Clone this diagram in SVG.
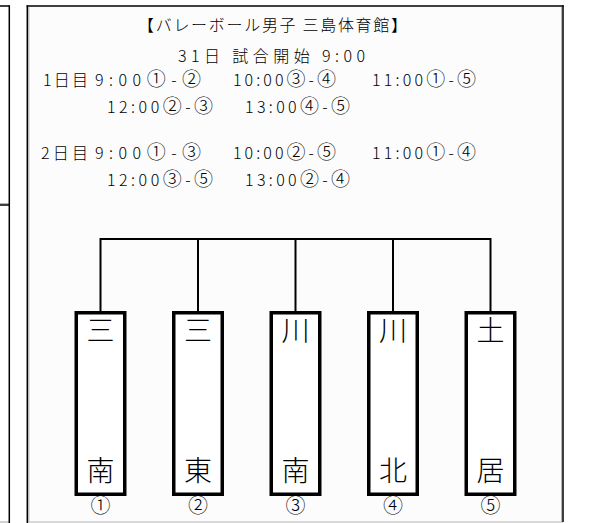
<svg xmlns="http://www.w3.org/2000/svg" width="597" height="523" viewBox="0 0 597 523">
<defs>
<style>
.t{font-family:"Noto Sans CJK JP","Noto Sans",sans-serif;font-size:16px;font-weight:300;fill:#000}
.c{font-family:"DejaVu Sans","Noto Sans CJK JP",sans-serif;font-size:19px}
.nm{font-family:"Noto Sans CJK JP","Noto Sans",sans-serif;font-size:28px;font-weight:300;fill:#000;text-anchor:middle}
.num{font-family:"Noto Sans CJK JP","Noto Sans",sans-serif;font-size:20px;font-weight:300;fill:#000;text-anchor:middle}
.box{fill:#ffffff;stroke:#000;stroke-width:3.5}
.ln{stroke:#000;stroke-width:2;fill:none}
.fr{stroke:#000;stroke-width:1.5;fill:none}
.gr{stroke:#b4b4b4;stroke-width:1.2;fill:none}
</style>
</defs>
<rect x="0" y="0" width="597" height="523" fill="#ffffff"/>
<g id="left-panel">
<line class="gr" x1="0" y1="203.6" x2="9" y2="203.6"/>
<line class="gr" x1="0" y1="522" x2="9" y2="522"/>
<line class="fr" x1="0" y1="6" x2="9.3" y2="6"/>
<line class="fr" x1="0" y1="205" x2="9.3" y2="205"/>
<line class="fr" x1="9.3" y1="5.3" x2="9.3" y2="523"/>
</g>
<g id="frame">
<rect x="27.3" y="6" width="535.7" height="517" fill="#fcfcfc"/>
<line class="gr" x1="28.8" y1="7" x2="28.8" y2="522"/>
<line class="gr" x1="561.6" y1="7" x2="561.6" y2="522"/>
<line class="gr" x1="27" y1="522" x2="563" y2="522"/>
<line class="fr" x1="26.6" y1="6" x2="563.7" y2="6"/>
<line class="fr" x1="27.3" y1="5.3" x2="27.3" y2="523"/>
<line class="fr" x1="563" y1="5.3" x2="563" y2="522"/>
</g>
<g id="schedule">
<text class="t" x="138" y="31" textLength="269" lengthAdjust="spacing">【バレーボール男子 三島体育館】</text>
<text class="t" x="178" y="62" textLength="187" lengthAdjust="spacing">31日 試合開始 9:00</text>
<text class="t" x="43" y="86" textLength="45" lengthAdjust="spacing">1日目</text>
<text class="t" x="95" y="86" textLength="106" lengthAdjust="spacing">9:00<tspan class="c">①</tspan>-<tspan class="c">②</tspan></text>
<text class="t" x="233" y="86" textLength="103" lengthAdjust="spacing">10:00<tspan class="c">③</tspan>-<tspan class="c">④</tspan></text>
<text class="t" x="372" y="86" textLength="104" lengthAdjust="spacing">11:00<tspan class="c">①</tspan>-<tspan class="c">⑤</tspan></text>
<text class="t" x="107" y="112.5" textLength="106" lengthAdjust="spacing">12:00<tspan class="c">②</tspan>-<tspan class="c">③</tspan></text>
<text class="t" x="245" y="112.5" textLength="105" lengthAdjust="spacing">13:00<tspan class="c">④</tspan>-<tspan class="c">⑤</tspan></text>
<text class="t" x="41" y="159" textLength="47" lengthAdjust="spacing">2日目</text>
<text class="t" x="95" y="159" textLength="106" lengthAdjust="spacing">9:00<tspan class="c">①</tspan>-<tspan class="c">③</tspan></text>
<text class="t" x="233" y="159" textLength="103" lengthAdjust="spacing">10:00<tspan class="c">②</tspan>-<tspan class="c">⑤</tspan></text>
<text class="t" x="372" y="159" textLength="104" lengthAdjust="spacing">11:00<tspan class="c">①</tspan>-<tspan class="c">④</tspan></text>
<text class="t" x="107" y="186" textLength="106" lengthAdjust="spacing">12:00<tspan class="c">③</tspan>-<tspan class="c">⑤</tspan></text>
<text class="t" x="245" y="186" textLength="105" lengthAdjust="spacing">13:00<tspan class="c">②</tspan>-<tspan class="c">④</tspan></text>
</g>
<g id="connectors">
<line class="ln" x1="100.5" y1="239" x2="490.5" y2="239"/>
<line class="ln" x1="100.5" y1="238" x2="100.5" y2="312"/>
<line class="ln" x1="198" y1="239" x2="198" y2="312"/>
<line class="ln" x1="295.5" y1="239" x2="295.5" y2="312"/>
<line class="ln" x1="393" y1="239" x2="393" y2="312"/>
<line class="ln" x1="490.5" y1="238" x2="490.5" y2="312"/>
</g>
<g id="team-1">
<rect class="box" x="76.25" y="312.75" width="48.5" height="181.5"/>
<text class="nm" x="100.5" y="341">三</text>
<text class="nm" x="100.5" y="481">南</text>
<text class="num" x="100.5" y="513">①</text>
</g>
<g id="team-2">
<rect class="box" x="173.75" y="312.75" width="48.5" height="181.5"/>
<text class="nm" x="198" y="341">三</text>
<text class="nm" x="198" y="481">東</text>
<text class="num" x="198" y="513">②</text>
</g>
<g id="team-3">
<rect class="box" x="271.25" y="312.75" width="48.5" height="181.5"/>
<text class="nm" x="295.5" y="341">川</text>
<text class="nm" x="295.5" y="481">南</text>
<text class="num" x="295.5" y="513">③</text>
</g>
<g id="team-4">
<rect class="box" x="368.75" y="312.75" width="48.5" height="181.5"/>
<text class="nm" x="393" y="341">川</text>
<text class="nm" x="393" y="481">北</text>
<text class="num" x="393" y="513">④</text>
</g>
<g id="team-5">
<rect class="box" x="466.25" y="312.75" width="48.5" height="181.5"/>
<text class="nm" x="490.5" y="341">土</text>
<text class="nm" x="490.5" y="481">居</text>
<text class="num" x="490.5" y="513">⑤</text>
</g>
</svg>
